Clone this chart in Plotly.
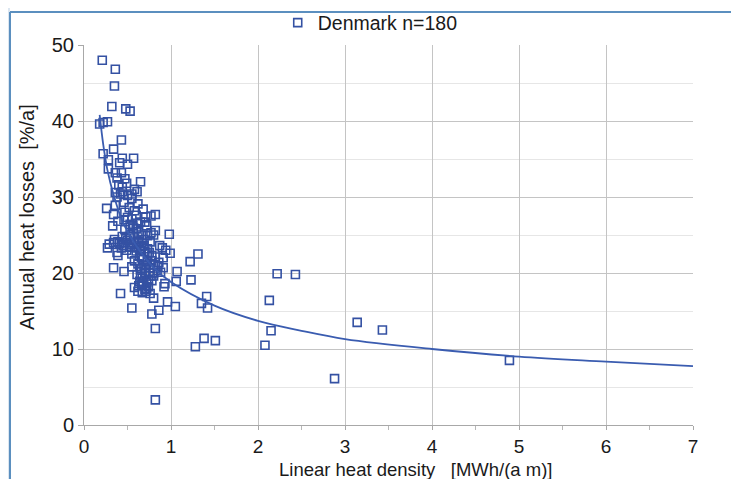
import plotly.graph_objects as go

# Scatter data: linear heat density [MWh/(a m)] vs annual heat losses [%/a]
density = [
    0.21, 0.36, 0.35, 0.32, 0.48, 0.53, 0.18, 0.22, 0.27, 0.43,
    0.34, 0.22, 0.57, 0.44, 0.28, 0.41, 0.50, 0.28, 0.36, 0.43,
    0.38, 0.47, 0.65, 0.44, 0.58, 0.61, 0.36, 0.42, 0.50, 0.38,
    0.55, 0.46, 0.62, 0.36, 0.68, 0.26, 0.47, 0.34, 0.77, 0.82,
    0.60, 0.71, 0.50, 0.55, 0.46, 0.65, 0.70, 0.61, 0.33, 0.53,
    0.72, 0.57, 0.47, 0.82, 0.77, 0.62, 0.98, 0.53, 0.66, 0.73,
    0.80, 0.44, 0.58, 0.50, 0.63, 0.76, 0.39, 0.46, 0.34, 0.29,
    0.55, 0.69, 0.87, 0.27, 0.43, 0.60, 0.90, 0.49, 0.65, 0.94,
    0.38, 0.99, 1.31, 0.73, 0.55, 0.78, 0.39, 0.66, 0.91, 1.22,
    0.58, 0.73, 0.62, 0.80, 0.69, 0.85, 0.55, 0.34, 0.76, 0.65,
    0.91, 0.46, 1.07, 0.71, 0.80, 2.22, 2.43, 0.61, 0.76, 0.67,
    1.23, 0.64, 1.06, 0.72, 0.93, 0.66, 0.92, 0.58, 0.72, 0.62,
    0.67, 0.76, 0.42, 1.41, 0.80, 2.13, 0.96, 1.35, 1.05, 1.42,
    0.55, 0.86, 0.78, 3.14, 3.43, 0.82, 2.15, 1.38, 1.51, 1.28,
    2.08, 4.89, 2.88, 0.82,
    0.62, 0.66, 0.70, 0.64, 0.68, 0.72, 0.66, 0.70, 0.74, 0.68,
    0.63, 0.70, 0.74, 0.78, 0.80, 0.84, 0.60, 0.56, 0.52, 0.48,
    0.45, 0.41, 0.57, 0.60, 0.53, 0.75, 0.82, 0.86, 0.88, 0.78,
    0.73, 0.69, 0.58, 0.52, 0.40, 0.49, 0.44, 0.55, 0.39, 0.35,
    0.71, 0.65,
]
losses = [
    48.0, 46.8, 44.6, 41.9, 41.6, 41.3, 39.6, 39.8, 39.9, 37.5,
    36.3, 35.7, 35.1, 35.1, 34.9, 34.5, 34.3, 33.7, 33.2, 33.2,
    32.5, 32.4, 32.0, 31.3, 31.0, 30.7, 30.6, 30.4, 30.2, 30.0,
    29.8, 29.3, 29.1, 28.9, 28.4, 28.5, 28.0, 27.7, 27.5, 27.7,
    27.6, 27.4, 27.3, 27.1, 27.0, 26.7, 26.7, 26.5, 26.2, 26.4,
    26.2, 25.9, 25.7, 25.6, 25.3, 25.4, 25.1, 25.1, 25.0, 24.9,
    25.0, 24.8, 24.6, 24.3, 24.2, 24.1, 24.1, 24.0, 24.0, 23.8,
    23.8, 23.6, 23.6, 23.3, 23.3, 23.3, 23.3, 23.0, 23.0, 23.0,
    22.7, 22.6, 22.5, 22.5, 22.5, 22.3, 22.3, 22.0, 22.0, 21.5,
    21.6, 21.5, 21.2, 21.1, 21.0, 20.9, 20.8, 20.7, 20.7, 20.4,
    20.7, 20.2, 20.2, 20.1, 20.0, 19.9, 19.8, 19.8, 19.6, 19.3,
    19.1, 18.9, 18.9, 18.8, 18.6, 18.4, 18.2, 18.1, 18.0, 17.6,
    17.4, 17.3, 17.3, 16.9, 16.7, 16.4, 16.2, 16.0, 15.6, 15.4,
    15.4, 15.1, 14.6, 13.5, 12.5, 12.7, 12.4, 11.4, 11.1, 10.3,
    10.5, 8.5, 6.1, 3.3,
    24.0, 23.5, 22.8, 22.2, 21.8, 21.0, 20.6, 19.9, 19.2, 18.6,
    18.3, 17.8, 18.2, 19.0, 19.6, 20.3, 25.8, 26.2, 24.8, 24.5,
    23.6, 23.9, 24.0, 22.9, 23.4, 22.7, 22.1, 21.4, 20.1, 21.6,
    23.2, 24.4, 28.2, 28.6, 31.6, 31.8, 30.7, 30.4, 26.8, 24.4,
    17.6, 19.6,
]

# Trend line (power fit)
trend_x = [0.18, 0.22, 0.27, 0.34, 0.45, 0.6, 0.8, 1.0, 1.5, 2.0, 2.5, 3.0, 4.0, 5.0, 6.0, 7.0]
trend_y = [40.8, 37.0, 33.5, 30.3, 26.6, 23.6, 20.7, 18.8, 15.7, 13.7, 12.4, 11.3, 10.0, 9.0, 8.35, 7.75]

x_ticks = [0, 1, 2, 3, 4, 5, 6, 7]
y_ticks = [0, 10, 20, 30, 40, 50]

legend_label = "Denmark n=180"
x_title = "Linear heat density   [MWh/(a m)]"
y_title = "Annual heat losses  [%/a]"

BLUE = "#3451a3"
FONT = "Liberation Sans, Arial, sans-serif"

fig = go.Figure()
fig.add_trace(go.Scatter(
    x=density, y=losses, mode="markers", name=legend_label,
    marker=dict(symbol="square-open", size=8, color=BLUE, line=dict(width=1.6, color=BLUE)),
))
fig.add_trace(go.Scatter(
    x=trend_x, y=trend_y, mode="lines", showlegend=False,
    line=dict(color="#3a5cb0", width=1.8, shape="spline", smoothing=1.0),
))

# the page body adds an 8px offset, so the figure is 8px smaller than the window
fig.update_layout(
    width=731, height=471,
    margin=dict(l=76, r=46, t=37, b=54, autoexpand=False),
    paper_bgcolor="white",
    plot_bgcolor="rgba(0,0,0,0)",
    font=dict(family=FONT, size=18, color="#1a1a1a"),
    showlegend=True,
    legend=dict(orientation="h", x=0.47, xanchor="center", y=1.058, yanchor="middle",
                font=dict(size=19.5, color="#1a1a1a"), bgcolor="rgba(0,0,0,0)",
                itemwidth=30),
    xaxis=dict(
        range=[0, 7], tickvals=x_ticks, ticktext=[str(v) for v in x_ticks],
        showgrid=True, gridcolor="#c4c4c4", gridwidth=1,
        showline=True, linecolor="#a8a8a8", linewidth=1,
        ticks="outside", ticklen=4, tickcolor="#a8a8a8",
        minor=dict(dtick=0.5, ticks="outside", ticklen=4, tickcolor="#b8b8b8", showgrid=False),
        tickfont=dict(size=19), zeroline=False, fixedrange=True,
    ),
    yaxis=dict(
        range=[0, 50], tickvals=y_ticks, ticktext=[str(v) for v in y_ticks],
        showgrid=True, gridcolor="#c4c4c4", gridwidth=1,
        showline=True, linecolor="#a8a8a8", linewidth=1,
        ticks="outside", ticklen=5, tickcolor="#a8a8a8",
        minor=dict(dtick=5, showgrid=True, gridcolor="#e6e6e6", ticks=""),
        tickfont=dict(size=20), zeroline=False, fixedrange=True,
    ),
    shapes=[
        dict(type="rect", xref="paper", yref="paper", x0=-0.2, x1=-0.1215, y0=-0.2, y1=1.2,
             fillcolor="#dbe6f1", line=dict(width=0), layer="below"),
        dict(type="line", xref="paper", yref="paper", x0=-0.1215, x1=-0.1215, y0=-0.2, y1=1.087,
             line=dict(color="#5b8fbf", width=2), layer="below"),
        dict(type="line", xref="paper", yref="paper", x0=-0.1215, x1=1.2, y0=1.087, y1=1.087,
             line=dict(color="#5b8fbf", width=2), layer="below"),
    ],
    annotations=[
        dict(text=x_title, xref="paper", yref="paper", x=0.545, y=-0.116,
             xanchor="center", yanchor="middle", showarrow=False,
             font=dict(size=18.5, color="#1a1a1a")),
        dict(text=y_title, xref="paper", yref="paper", x=-0.094, y=0.547,
             xanchor="center", yanchor="middle", showarrow=False, textangle=-90,
             font=dict(size=20, color="#1a1a1a")),
    ],
)

fig.write_html("out.html")
